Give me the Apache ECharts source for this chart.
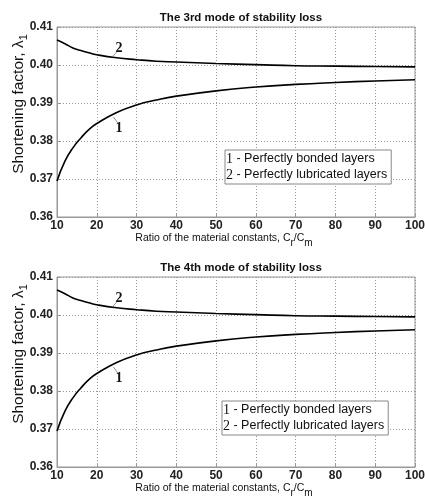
<!DOCTYPE html>
<html>
<head>
<meta charset="utf-8">
<style>
  html, body { margin: 0; padding: 0; background: #fff; }
  #chart { width: 425px; height: 499px; }
</style>
<script src="https://cdn.jsdelivr.net/npm/echarts@6/dist/echarts.min.js"></script>
</head>
<body>
<div id="chart"></div>
<script>
// values (both panels show the same curves)
const ratio = [10, 12, 14, 16, 18, 20, 25, 30, 35, 40, 50, 60, 70, 80, 90, 100];
const bonded = [0.3695, 0.3747, 0.3782, 0.3808, 0.3830, 0.3846, 0.3875, 0.3895, 0.3908, 0.3918, 0.3932, 0.3942, 0.3949, 0.3954, 0.3958, 0.3961];
const lubricated = [0.4066, 0.4056, 0.4045, 0.4038, 0.4032, 0.4027, 0.4019, 0.4014, 0.4010, 0.4008, 0.4004, 0.4001, 0.3998, 0.3997, 0.3996, 0.3995];
const titles = ["The 3rd mode of stability loss", "The 4th mode of stability loss"];
const seriesNames = ["1 - Perfectly bonded layers", "2 - Perfectly lubricated layers"];

const chart = echarts.init(document.getElementById("chart"));

const sans = "Liberation Sans, Arial, sans-serif";
const serif = "Liberation Serif, Times New Roman, serif";
const gridTops = [27, 277];
const legendPos = [{ left: 225, top: 150 }, { left: 222, top: 401 }];

const grid = gridTops.map((t) => ({
  left: 57, top: t, width: 358, height: 190,
  outerBoundsMode: "none",
  show: true, borderColor: "#999", borderWidth: 1, backgroundColor: "#fff",
}));

const title = titles.map((t, i) => ({
  text: t,
  left: 236, top: gridTops[i] - 20, textAlign: "center",
  textStyle: { fontFamily: sans, fontSize: 11.5, fontWeight: "bold", color: "#111" },
}));

const xAxis = gridTops.map((_, i) => ({
  type: "value", gridIndex: i, min: 10, max: 100, interval: 10,
  name: "Ratio of the material constants, C{sub|r}/C{sub|m}",
  nameLocation: "middle", nameGap: 12, nameMoveOverlap: false,
  nameTextStyle: {
    fontFamily: sans, fontSize: 10.5, color: "#111", padding: [0, 24, 0, 0],
    rich: { sub: { fontFamily: sans, fontSize: 10, color: "#111", padding: [9, 0, 0, 0] } },
  },
  axisLine: { show: true, lineStyle: { color: "#999" } },
  axisTick: { show: true, inside: true, length: 3, lineStyle: { color: "#999" } },
  axisLabel: { fontFamily: sans, fontSize: 12, fontWeight: "bold", color: "#222", margin: 3 },
  splitLine: { show: true, lineStyle: { color: "#999", type: [1, 2] } },
}));

const yAxis = gridTops.map((_, i) => ({
  type: "value", gridIndex: i, min: 0.36, max: 0.41, interval: 0.01,
  name: "Shortening factor, λ{sub|1}",
  nameLocation: "middle", nameGap: 28, nameRotate: 90, nameMoveOverlap: false,
  nameTextStyle: {
    fontFamily: sans, fontSize: 15.5, color: "#111", padding: [0, 0, 0, 36],
    rich: { sub: { fontFamily: sans, fontSize: 11, color: "#111", padding: [10, 0, 0, 0] } },
  },
  axisLine: { show: true, lineStyle: { color: "#999" } },
  axisTick: { show: true, inside: true, length: 3, lineStyle: { color: "#999" } },
  axisLabel: {
    fontFamily: sans, fontSize: 12, fontWeight: "bold", color: "#222", margin: 4,
    formatter: (v) => v.toFixed(2),
  },
  splitLine: { show: true, lineStyle: { color: "#999", type: [1, 2] } },
}));

const legend = gridTops.map((_, i) => ({
  data: seriesNames,
  orient: "vertical",
  left: legendPos[i].left, top: legendPos[i].top,
  icon: "none", itemWidth: 0, itemHeight: 13, itemGap: 2,
  padding: [2, 4, 2, 1],
  backgroundColor: "#fff", borderColor: "#888", borderWidth: 1, borderRadius: 0,
  selectedMode: false,
  formatter: (name) => "{n|" + name.slice(0, 1) + "}" + name.slice(1),
  textStyle: {
    fontFamily: sans, fontSize: 12.5, color: "#111", padding: [0, 0, 0, -5],
    rich: { n: { fontFamily: serif, fontSize: 14, color: "#111" } },
  },
}));

function curve(name, values, i, tag, lead, at) {
  return {
    name: name, type: "line", xAxisIndex: i, yAxisIndex: i,
    data: ratio.map((x, k) => [x, values[k]]),
    smooth: true, showSymbol: false, silent: true,
    lineStyle: { color: "#000", width: 1.6 },
    itemStyle: { color: "#000" },
    markLine: {
      silent: true, symbol: "none", label: { show: false },
      lineStyle: { color: "#777", width: 0.8, type: "solid" },
      data: [[{ coord: lead[0] }, { coord: lead[1] }]],
    },
    markPoint: {
      silent: true, symbol: "circle", symbolSize: 0,
      label: { show: true, position: "inside", formatter: tag,
        fontFamily: serif, fontSize: 14, fontWeight: "bold", color: "#111" },
      data: [{ coord: at }],
    },
  };
}

const series = [];
gridTops.forEach((_, i) => {
  series.push(curve(seriesNames[0], bonded, i, "1",
    [[24.2, 0.3863], [25.3, 0.3847]], [25.6, 0.3832]));
  series.push(curve(seriesNames[1], lubricated, i, "2",
    [[23.9, 0.4021], [25.0, 0.4034]], [25.6, 0.4045]));
});

chart.setOption({
  backgroundColor: "#fff",
  animation: false,
  title: title,
  grid: grid,
  xAxis: xAxis,
  yAxis: yAxis,
  legend: legend,
  series: series,
});
</script>
</body>
</html>
